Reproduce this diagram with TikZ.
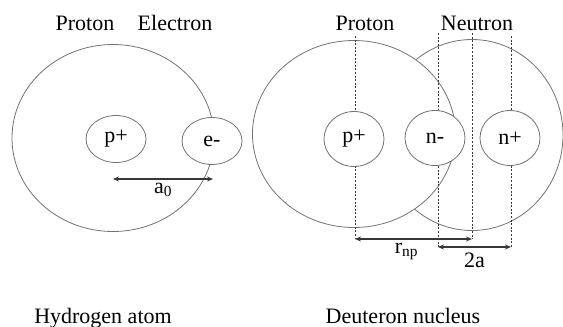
\documentclass[tikz,border=0pt]{standalone}
\usepackage{fontspec}
\setmainfont{Liberation Serif}
\usetikzlibrary{arrows.meta,positioning,shapes.geometric}
\definecolor{orbitgray}{RGB}{115,115,115}
\definecolor{spandark}{RGB}{55,55,55}
\tikzset{
  orbit/.style={draw=orbitgray, line width=0.8pt, fill=white, ellipse, inner sep=0pt,
                minimum width=#1, minimum height=188pt},
  particle/.style={draw=orbitgray, line width=0.8pt, fill=white, ellipse, inner sep=0pt,
                   minimum width=60pt, minimum height=#1, font=\fontsize{22}{24}\selectfont},
  guide/.style={draw=spandark, line width=0.6pt, dash pattern=on 2pt off 1.6pt},
  span/.style={draw=spandark, line width=1.4pt,
               {Stealth[length=6pt,width=5pt]}-{Stealth[length=6pt,width=5pt]}},
  lbl/.style={font=\fontsize{22}{24}\selectfont, text=black, inner sep=0pt},
}
\begin{document}
\begin{tikzpicture}[x=1pt, y=-1pt]
\useasboundingbox (0,0) rectangle (563,327);

% Hydrogen atom
\node[orbit=202pt, minimum height=187pt] (hshell) at (113,138) {};
\node[particle=47pt] (hp) at (116,139) {p+};
\node[particle=47pt] (he) at (212,141) {e-};
\coordinate (a0L) at (113,179);
\coordinate (a0R) at (213,179);
\draw[span] (a0L) -- node[lbl, below=3pt] {a\textsubscript{0}} (a0R);

\node[lbl, anchor=base] (hpname) at (85,30) {Proton};
\node[lbl, anchor=base] (hename) at (175,30) {Electron};
\node[lbl, anchor=base] (hname) at (103,323) {Hydrogen atom};

% Deuteron nucleus
\node[orbit=182pt, minimum height=191pt] (nshell) at (472,135) {};
\node[orbit=203pt, minimum height=187pt] (pshell) at (354,134) {};

% guide lines
\coordinate (pTop) at (355,36);
\coordinate (pBot) at (355,239);
\coordinate (mTop) at (472,33);
\coordinate (mBot) at (472,239);
\coordinate (nmTop) at (438,33);
\coordinate (nmBot) at (438,247);
\coordinate (npTop) at (511,36);
\coordinate (npBot) at (511,247);
\draw[guide] (pTop) -- (pBot);
\draw[guide] (mTop) -- (mBot);
\draw[guide] (nmTop) -- (nmBot);
\draw[guide] (npTop) -- (npBot);

\node[particle=55pt] (dp) at (354,139) {p+};
\node[particle=55pt] (dnm) at (435,138) {n-};
\node[particle=55pt] (dnp) at (510,138) {n+};

\draw[span] (pBot) -- node[lbl, below=3pt, pos=0.44] {r\textsubscript{np}} (mBot);
\draw[span] (nmBot) -- node[lbl, below=5pt] {2a} (npBot);

\node[lbl, anchor=base] (dpname) at (365,30) {Proton};
\node[lbl, anchor=base] (dnname) at (477,30) {Neutron};
\node[lbl, anchor=base] (dname) at (403,323) {Deuteron nucleus};
\end{tikzpicture}
\end{document}
